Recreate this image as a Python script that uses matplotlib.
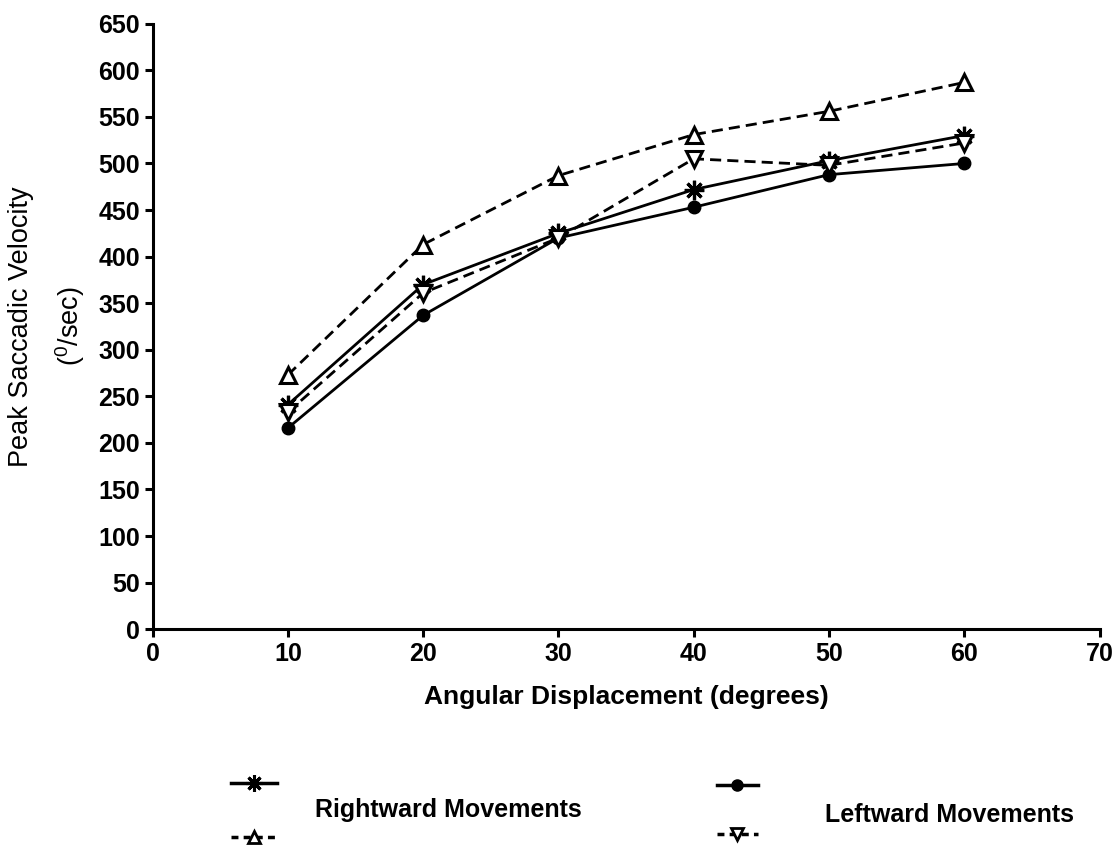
import matplotlib
matplotlib.use("Agg")
import matplotlib.pyplot as plt
from matplotlib.lines import Line2D

plt.rcParams['font.family'] = ['Liberation Sans', 'DejaVu Sans']
plt.rcParams['mathtext.fontset'] = 'custom'
plt.rcParams['mathtext.rm'] = 'Liberation Sans'
plt.rcParams['mathtext.it'] = 'Liberation Sans'

# datos
angles = [10, 20, 30, 40, 50, 60]
right_solid = [241, 370, 425, 472, 503, 530]
right_dashed = [273, 413, 487, 531, 556, 587]
left_solid = [216, 337, 420, 453, 488, 500]
left_dashed = [233, 361, 420, 505, 498, 522]

x_ticks = [0, 10, 20, 30, 40, 50, 60, 70]
y_ticks = list(range(0, 651, 50))

fig = plt.figure(figsize=(11.14, 8.48), dpi=100)
ax = fig.add_axes([0.137, 0.258, 0.850, 0.714])

lw = 2.0
star = (8, 2, 0)
ax.plot(angles, right_solid, color='black', lw=lw, ls='-', marker=star,
        ms=14, mew=2.3)
ax.plot(angles, right_dashed, color='black', lw=lw, ls=(0, (4, 2.2)), marker='^',
        ms=11, mfc='white', mew=2.2)
ax.plot(angles, left_solid, color='black', lw=lw, ls='-', marker='o', ms=9)
ax.plot(angles, left_dashed, color='black', lw=lw, ls=(0, (4, 2.2)), marker='v',
        ms=11, mfc='white', mew=2.2)

ax.set_xlim(0, 70)
ax.set_ylim(0, 650)
ax.set_xticks(x_ticks)
ax.set_yticks(y_ticks)
for s in ['top', 'right']:
    ax.spines[s].set_visible(False)
for s in ['left', 'bottom']:
    ax.spines[s].set_linewidth(2.2)
ax.tick_params(width=2.2, length=6, labelsize=18, pad=3)
for lab in ax.get_xticklabels() + ax.get_yticklabels():
    lab.set_fontweight('bold')

ax.set_xlabel('Angular Displacement (degrees)', fontsize=19, fontweight='bold', labelpad=14)
ax.set_ylabel('Peak Saccadic Velocity\n($^{0}$/sec)', fontsize=19.5, linespacing=1.75,
              labelpad=8)

# leyenda personalizada
h_rs = Line2D([], [], color='black', lw=2.5, marker=star, ms=12, mew=2.2)
h_rd = Line2D([], [], color='black', lw=2.5, ls=(0, (2, 1.5)), marker='^', ms=9,
              mfc='white', mew=2)
h_ls = Line2D([], [], color='black', lw=2.5, marker='o', ms=8)
h_ld = Line2D([], [], color='black', lw=2.5, ls=(0, (2, 1.5)), marker='v', ms=9,
              mfc='white', mew=2)

fig.legend(handles=[h_rs, h_rd], labels=['', ''], loc='center',
           bbox_to_anchor=(0.228, 0.044), frameon=False, labelspacing=2.9,
           handlelength=3.3, handletextpad=0)
fig.legend(handles=[h_ls, h_ld], labels=['', ''], loc='center',
           bbox_to_anchor=(0.662, 0.044), frameon=False, labelspacing=2.5,
           handlelength=3.0, handletextpad=0)

fig.text(0.283, 0.045, 'Rightward Movements', fontsize=18, fontweight='bold', va='center')
fig.text(0.741, 0.039, 'Leftward Movements', fontsize=18, fontweight='bold', va='center')

fig.savefig('out.png', dpi=100, facecolor='white')
